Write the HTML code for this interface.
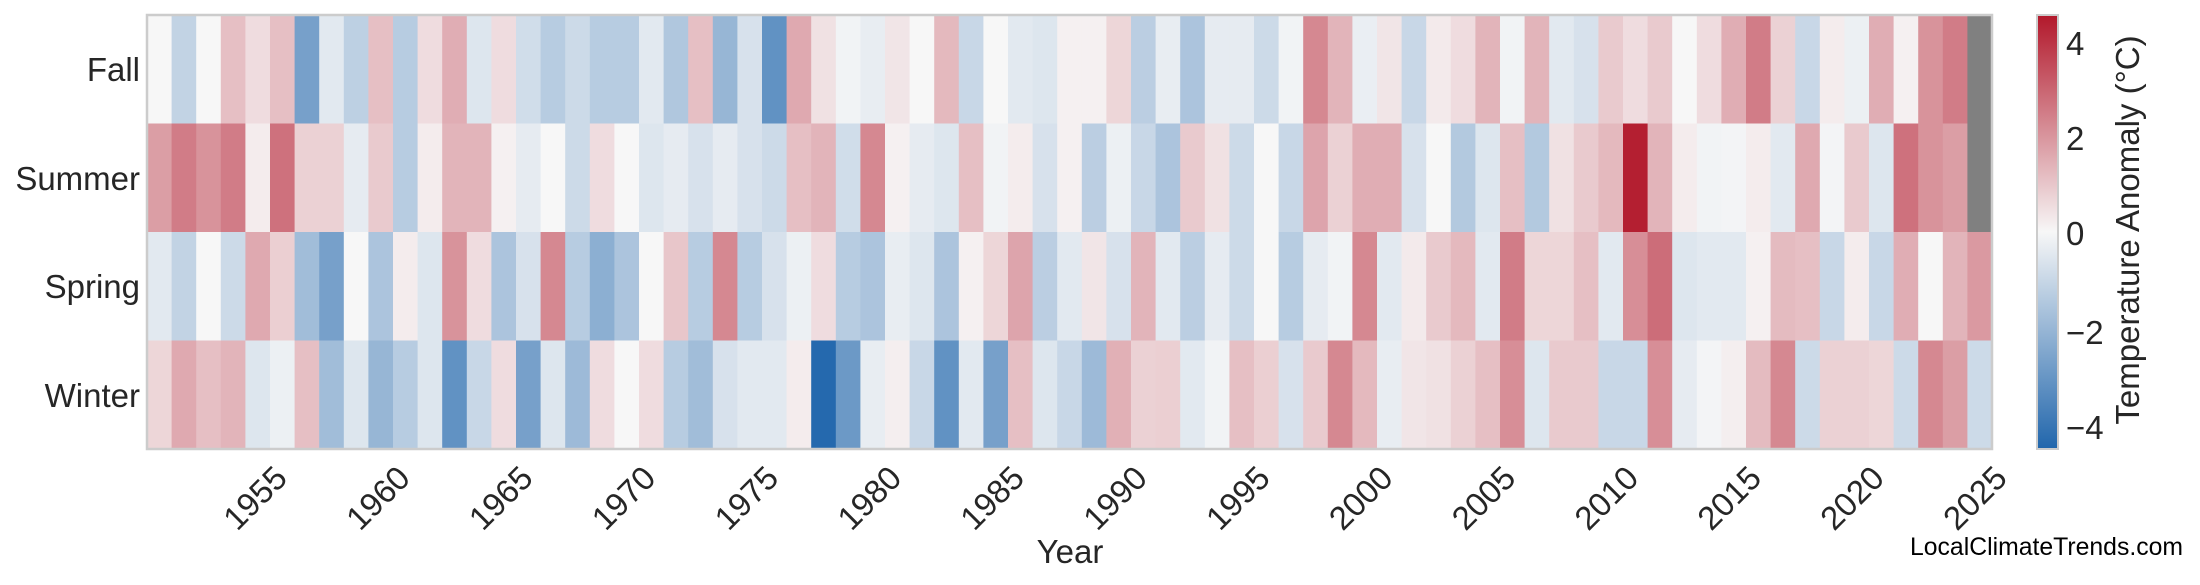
<!DOCTYPE html>
<html><head><meta charset="utf-8">
<style>
html,body{margin:0;padding:0;background:#fff;}
svg{display:block;font-family:"Liberation Sans",Arial,sans-serif;}
</style></head>
<body>
<svg id="s" width="2200" height="585" viewBox="0 0 2200 585" xmlns="http://www.w3.org/2000/svg">
<defs>
<linearGradient id="cb" x1="0" y1="1" x2="0" y2="0">
<stop offset="0" stop-color="#2166ac"/>
<stop offset="0.5" stop-color="#f7f7f7"/>
<stop offset="1" stop-color="#b2182b"/>
</linearGradient>
</defs>
<g id="cells"></g>
<rect x="147" y="15" width="1845" height="434" fill="none" stroke="#cccccc" stroke-width="2.5"/>
<g font-size="33" fill="#262626" text-anchor="end">
<text x="140" y="81">Fall</text>
<text x="140" y="190">Summer</text>
<text x="140" y="298">Spring</text>
<text x="140" y="407">Winter</text>
</g>
<g id="xt" font-size="33" fill="#262626" text-anchor="end"></g>
<text x="1070" y="563" font-size="33" fill="#262626" text-anchor="middle">Year</text>
<rect x="2037" y="15" width="21" height="434" fill="url(#cb)" stroke="#cccccc" stroke-width="2"/>
<g font-size="33" fill="#262626">
<text x="2066" y="55">4</text>
<text x="2066" y="150">2</text>
<text x="2066" y="245">0</text>
<text x="2066" y="344">−2</text>
<text x="2066" y="439">−4</text>
</g>
<text transform="translate(2139,230) rotate(-90)" font-size="33" fill="#262626" text-anchor="middle">Temperature Anomaly (°C)</text>
<text x="1910" y="555" font-size="25" fill="#000" textLength="273" lengthAdjust="spacingAndGlyphs">LocalClimateTrends.com</text>
</svg>
<script>
var F=[0,-0.25,0,0.25,0.12,0.25,-0.6,-0.1,-0.27,0.25,-0.3,0.12,0.33,-0.12,0.12,-0.18,-0.3,-0.2,-0.3,-0.3,-0.1,-0.33,0.25,-0.45,-0.15,-0.7,0.35,0.1,-0.03,-0.07,0.08,0,0.28,-0.22,0,-0.1,-0.12,0.03,0.03,0.15,-0.28,-0.07,-0.35,-0.08,-0.08,-0.2,-0.03,0.5,0.3,-0.06,0.08,-0.22,0.06,0.12,0.3,-0.03,0.3,-0.1,-0.15,0.2,0.12,0.2,0,0.12,0.33,0.55,0.17,-0.22,0.05,-0.05,0.33,0.03,0.45,0.55,null];
var S=[0.4,0.55,0.45,0.55,0.05,0.6,0.17,0.17,-0.08,0.2,-0.3,0.05,0.3,0.3,0.03,-0.08,0,-0.2,0.12,0,-0.12,-0.08,-0.15,-0.08,-0.15,-0.2,0.25,0.3,-0.18,0.5,0.03,-0.08,-0.12,0.25,-0.03,0.05,-0.15,0.03,-0.28,-0.05,-0.22,-0.35,0.2,0.1,-0.2,0,-0.22,0.37,0.17,0.33,0.33,-0.15,0,-0.32,-0.12,0.25,-0.32,0.1,0.2,0.28,0.97,0.3,0.05,-0.03,-0.02,0.05,-0.1,0.35,-0.02,0.2,-0.12,0.6,0.45,0.4,null];
var P=[-0.1,-0.25,0,-0.2,0.35,0.18,-0.4,-0.6,0,-0.35,0.05,-0.12,0.45,0.12,-0.35,-0.15,0.5,-0.3,-0.5,-0.35,0,0.22,-0.3,0.5,-0.3,-0.15,-0.05,0.12,-0.3,-0.35,-0.07,-0.12,-0.35,0.03,0.15,0.37,-0.28,-0.1,0.08,-0.15,0.3,-0.1,-0.28,-0.08,-0.2,0,-0.3,-0.08,-0.03,0.5,-0.1,0.06,0.2,0.28,-0.1,0.55,0.15,0.15,0.25,-0.1,0.47,0.62,-0.12,-0.1,-0.1,0.03,0.27,0.25,-0.22,0.05,-0.22,0.33,0,0.3,0.42];
var W=[0.15,0.35,0.25,0.3,-0.12,-0.05,0.25,-0.4,-0.12,-0.45,-0.3,-0.12,-0.7,-0.22,0.12,-0.6,-0.12,-0.42,0.12,0,0.12,-0.3,-0.4,-0.15,-0.1,-0.1,0.05,-0.98,-0.65,-0.07,0.04,-0.22,-0.7,-0.1,-0.6,0.25,-0.12,-0.22,-0.42,0.32,0.17,0.18,-0.1,-0.03,0.25,0.18,-0.15,0.2,0.5,0.28,-0.07,0.08,0.1,0.17,0.25,0.47,-0.12,0.2,0.2,-0.22,-0.22,0.47,-0.08,-0.02,0.04,0.27,0.5,-0.2,0.17,0.17,0.15,-0.2,0.5,0.4,-0.2];
function col(t){if(t===null)return '#808080';var a=[247,247,247],b=t<0?[33,102,172]:[178,24,43];t=Math.min(1,Math.abs(t));
return 'rgb('+a.map(function(v,i){return Math.round(v+(b[i]-v)*t)}).join(',')+')';}
var g=document.getElementById('cells'),ns='http://www.w3.org/2000/svg',rows=[F,S,P,W],w=1845/75,h=434/4,out='';
for(var r=0;r<4;r++)for(var c=0;c<75;c++){
 out+='<rect x="'+(147+c*w).toFixed(2)+'" y="'+(15+r*h).toFixed(2)+'" width="'+(w+0.6).toFixed(2)+'" height="'+(h+0.6).toFixed(2)+'" fill="'+col(rows[r][c])+'"/>';}
g.innerHTML=out;
var xt=document.getElementById('xt'),s2='';
for(var y=1955;y<=2025;y+=5){var x=289+(y-1955)*24.57;
 s2+='<text transform="translate('+x.toFixed(1)+',480) rotate(-45)">'+y+'</text>';}
xt.innerHTML=s2;
</script>
</body></html>
